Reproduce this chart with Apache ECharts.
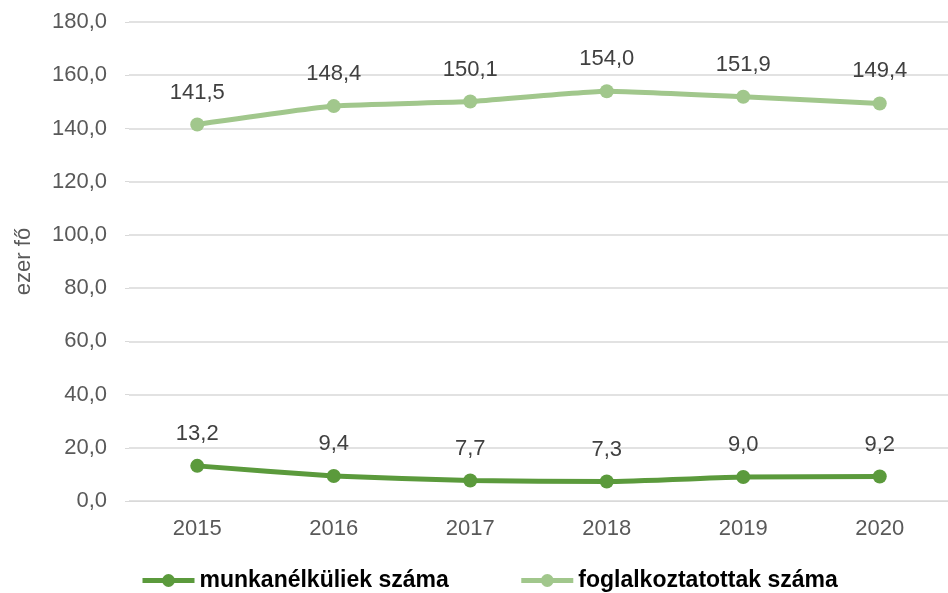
<!DOCTYPE html>
<html>
<head>
<meta charset="utf-8">
<title>ezer fő</title>
<script src="https://cdn.jsdelivr.net/npm/echarts@6/dist/echarts.min.js"></script>
<style>
	html, body { margin: 0; padding: 0; background: #fff; }
	#chart { width: 948px; height: 593px; }
</style>
</head>
<body>
	<div id="chart"></div>
	<script>
		var years = ['2015', '2016', '2017', '2018', '2019', '2020'];
		var munkanelkuliek = [13.2, 9.4, 7.7, 7.3, 9.0, 9.2];
		var foglalkoztatottak = [141.5, 148.4, 150.1, 154.0, 151.9, 149.4];

		function hu(v) {
			return Number(v).toFixed(1).replace('.', ',');
		}

		var font = 'Liberation Sans, Arial, sans-serif';
		var chart = echarts.init(document.getElementById('chart'));

		function serie(name, data, color) {
			return {
				name: name,
				type: 'line',
				data: data,
				smooth: 0.15,
				symbol: 'circle',
				symbolSize: 14,
				lineStyle: { width: 5, color: color },
				itemStyle: { color: color },
				label: {
					show: true,
					position: 'top',
					distance: 14,
					color: '#404040',
					fontSize: 22,
					fontFamily: font,
					formatter: function (p) { return hu(p.value); }
				}
			};
		}

		var option = {
			animation: false,
			grid: { left: 129, right: -3, top: 22, bottom: 92 },
			legend: {
				bottom: -4,
				left: 135,
				itemGap: 70,
				itemWidth: 52,
				itemHeight: 16,
				lineStyle: { width: 5 },
				textStyle: { fontSize: 23, fontWeight: 'bold', color: '#000', fontFamily: font },
				data: ['munkanélküliek száma', 'foglalkoztatottak száma']
			},
			xAxis: {
				type: 'category',
				data: years,
				axisLine: { lineStyle: { color: '#d9d9d9', width: 1 } },
				axisTick: { show: false },
				axisLabel: { color: '#595959', fontSize: 22, fontFamily: font, margin: 17 }
			},
			yAxis: {
				type: 'value',
				min: 0,
				max: 180,
				interval: 20,
				name: 'ezer fő',
				nameLocation: 'middle',
				nameRotate: 90,
				nameGap: 94,
				nameTextStyle: { color: '#595959', fontSize: 22, fontFamily: font },
				axisLine: { show: false },
				axisTick: { show: true, length: 4, lineStyle: { color: '#d9d9d9' } },
				axisLabel: { color: '#595959', fontSize: 22, fontFamily: font, margin: 22, formatter: hu },
				splitLine: { lineStyle: { color: '#d9d9d9', width: 1.5 } }
			},
			series: [
				serie('munkanélküliek száma', munkanelkuliek, '#5b9a3c'),
				serie('foglalkoztatottak száma', foglalkoztatottak, '#a1c78c')
			]
		};
		chart.setOption(option);
	</script>
</body>
</html>
